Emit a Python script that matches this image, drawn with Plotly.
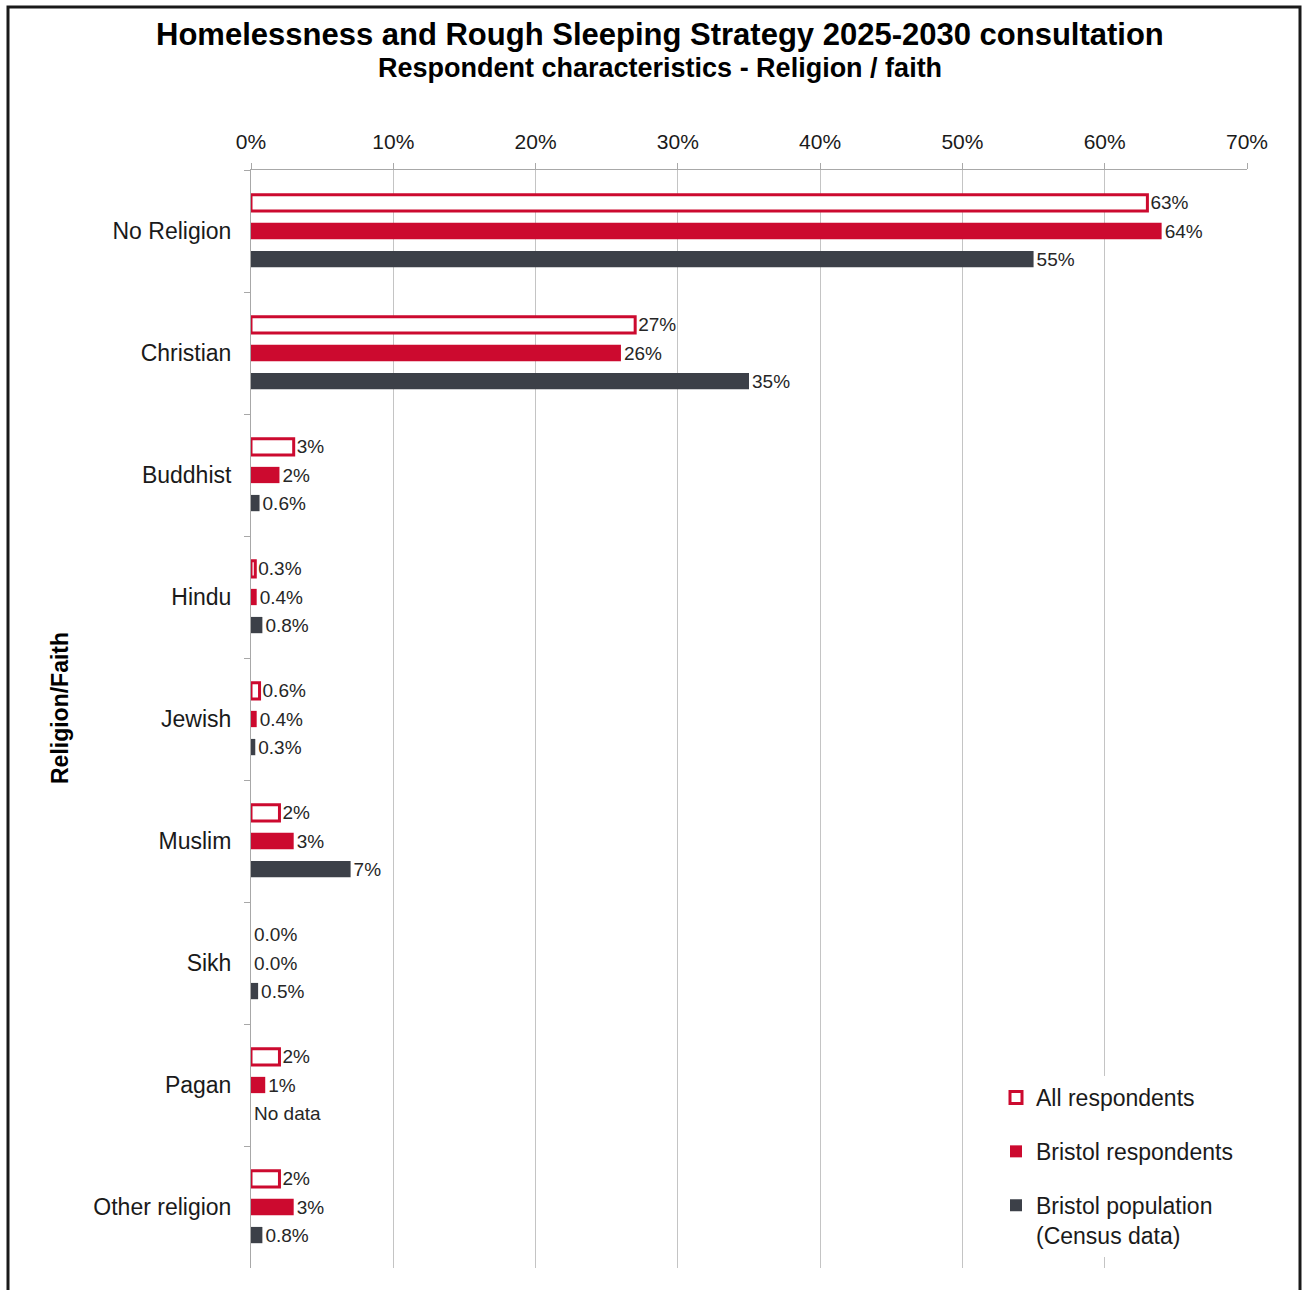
import plotly.graph_objects as go

# Religion / faith breakdown
categories = ["No Religion", "Christian", "Buddhist", "Hindu", "Jewish",
              "Muslim", "Sikh", "Pagan", "Other religion"]
all_respondents = [63, 27, 3, 0.3, 0.6, 2, 0.0, 2, 2]
bristol_respondents = [64, 26, 2, 0.4, 0.4, 3, 0.0, 1, 3]
bristol_population = [55, 35, 0.6, 0.8, 0.3, 7, 0.5, None, 0.8]

series_names = ["All respondents", "Bristol respondents",
                "Bristol population<br>(Census data)"]
x_ticks = [0, 10, 20, 30, 40, 50, 60, 70]
x_tick_labels = ["0%", "10%", "20%", "30%", "40%", "50%", "60%", "70%"]

RED = "#CC0A2F"
GREY = "#3C4048"
TEXT = "#1A1A1A"
FONT = "Liberation Sans, Arial, sans-serif"

# figure geometry (pixels)
W, H = 1302, 1290
L, R, T, B = 251, 55, 170, 22
PW, PH = W - L - R, H - T - B


def px_x(px):
    return (px - L) / PW


def px_y(py):
    return 1 - (py - T) / PH


def fmt(v):
    if v is None:
        return "No data"
    return f"{v:.1f}%" if v < 1 else f"{v:.0f}%"


def bar_x(values):
    return [0 if v is None else v for v in values]


fig = go.Figure()

series = [all_respondents, bristol_respondents, bristol_population]
fills = ["white", RED, GREY]
outline = [3, 0, 0]
for name, vals, fill, lw in zip(series_names, series, fills, outline):
    fig.add_trace(go.Bar(
        y=categories, x=bar_x(vals), orientation="h", name=name,
        legendgroup=name,
        marker=dict(
            color=fill,
            line=dict(color=RED,
                      width=[lw if (v or 0) > 0 else 0 for v in vals]),
        ),
        text=[fmt(v) for v in vals], textposition="outside",
        constraintext="none",
        outsidetextfont=dict(family=FONT, size=19, color="#262626"),
        cliponaxis=False, hoverinfo="skip",
    ))

fig.update_layout(
    width=W, height=H,
    margin=dict(l=L, r=R, t=T, b=B),
    paper_bgcolor="white", plot_bgcolor="white",
    barmode="group", bargap=0.31, bargroupgap=0.42,
    font=dict(family=FONT, color=TEXT),
    showlegend=True,
    legend=dict(
        x=px_x(996), y=px_y(1076), xanchor="left", yanchor="top",
        bgcolor="white", traceorder="grouped", tracegroupgap=21,
        valign="top", font=dict(family=FONT, size=23, color=TEXT),
    ),
    xaxis=dict(
        side="top", range=[0, 70], tickmode="array",
        tickvals=x_ticks, ticktext=x_tick_labels,
        showgrid=True, gridcolor="#C4C4C4", gridwidth=1,
        showline=True, linecolor="#A8A8A8", linewidth=1,
        ticks="outside", ticklen=6, tickcolor="#A8A8A8",
        zeroline=False, tickfont=dict(family=FONT, size=21, color=TEXT),
        ticklabelstandoff=6,
    ),
    yaxis=dict(
        type="category", categoryorder="array", categoryarray=categories,
        autorange="reversed", tickson="boundaries",
        showgrid=False, showline=True, linecolor="#A8A8A8", linewidth=1,
        ticks="outside", ticklen=6, tickcolor="#A8A8A8",
        tickfont=dict(family=FONT, size=23, color=TEXT),
        ticklabelstandoff=14,
    ),
)

# titles
fig.add_annotation(
    x=px_x(660), y=px_y(35), xref="paper", yref="paper",
    text="<b>Homelessness and Rough Sleeping Strategy 2025-2030 consultation</b>",
    showarrow=False, font=dict(family=FONT, size=31, color="black"),
    xanchor="center", yanchor="middle",
)
fig.add_annotation(
    x=px_x(660), y=px_y(68), xref="paper", yref="paper",
    text="<b>Respondent characteristics - Religion / faith</b>",
    showarrow=False, font=dict(family=FONT, size=27, color="black"),
    xanchor="center", yanchor="middle",
)
fig.add_annotation(
    x=px_x(60), y=px_y(708), xref="paper", yref="paper",
    text="<b>Religion/Faith</b>", textangle=-90,
    showarrow=False, font=dict(family=FONT, size=23, color="black"),
    xanchor="center", yanchor="middle",
)

# outer frame
fig.add_shape(
    type="rect", xref="paper", yref="paper",
    x0=px_x(8), x1=px_x(1300), y0=px_y(1310), y1=px_y(7),
    line=dict(color="#1A1A1A", width=3), fillcolor="rgba(0,0,0,0)",
    layer="above",
)

fig.write_html("out.html")
